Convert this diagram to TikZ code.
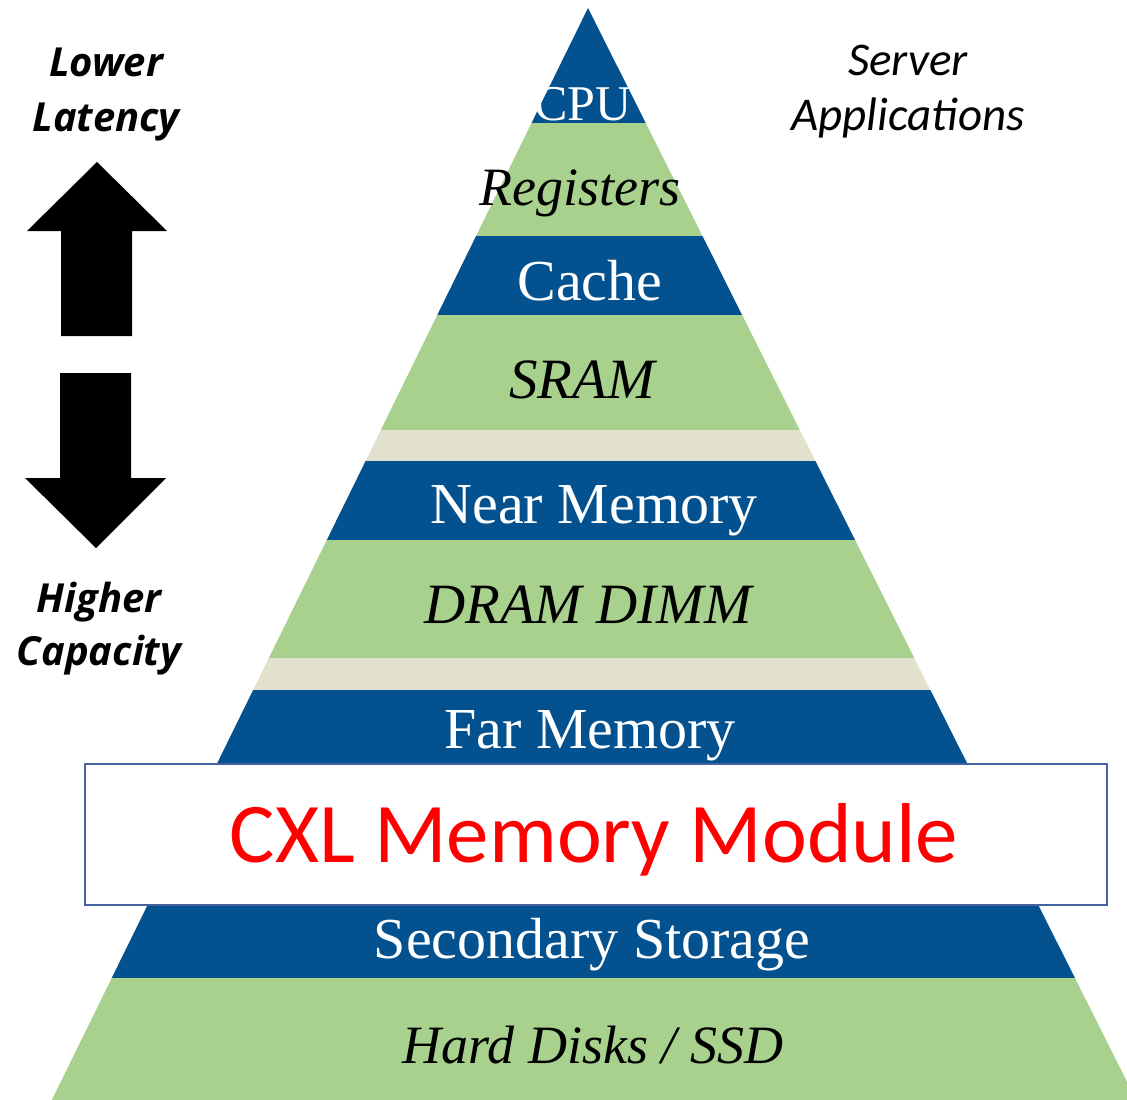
\documentclass[tikz,border=0pt]{standalone}
\usepackage{fontspec}
\setmainfont{Liberation Serif}
\newfontfamily\calibrifont{Carlito}
\newfontfamily\opensansfont{Open Sans}

\definecolor{tierblue}{RGB}{3,82,143}
\definecolor{tiergreen}{RGB}{169,209,142}
\definecolor{tierbeige}{RGB}{226,225,206}
\definecolor{boxedge}{RGB}{68,98,160}

\tikzset{
  declare function={lx(\t)=588-0.491*(\t-8); rx(\t)=588+0.502*(\t-8);},
  tiertext/.style={inner sep=0pt, anchor=base, font=\rmfamily\fontsize{58}{62}\selectfont},
  lighttier/.style={tiertext, text=white},
  darktier/.style={tiertext, text=black, font=\rmfamily\itshape\fontsize{57}{62}\selectfont},
  narrowdark/.style={darktier, font=\rmfamily\itshape\fontsize{54}{60}\selectfont},
  sidelabel/.style={inner sep=0pt, anchor=north, align=center,
    font=\opensansfont\bfseries\itshape\fontsize{40}{55}\selectfont},
  blockarrow/.style={fill=black},
}

% one horizontal slice of the pyramid between heights #1 and #2
\newcommand\tierband[3]{%
  \fill[#3] ({lx(#1)},#1) -- ({rx(#1)},#1) -- ({rx(#2)},#2) -- ({lx(#2)},#2) -- cycle;}

\begin{document}
\begin{tikzpicture}[x=1pt,y=-1pt]
\useasboundingbox (0,0) rectangle (1127,1100);
\clip (0,0) rectangle (1127,1100);

% pyramid slices, top to bottom
\fill[tierblue] (588,8) -- ({rx(123)},123) -- ({lx(123)},123) -- cycle;
\tierband{123}{236}{tiergreen}
\tierband{236}{315}{tierblue}
\tierband{315}{430.5}{tiergreen}
\tierband{430}{461.5}{tierbeige}
\tierband{461}{540.5}{tierblue}
\tierband{540}{658.5}{tiergreen}
\tierband{658}{690.5}{tierbeige}
\tierband{690}{978.5}{tierblue}
\tierband{978}{1100}{tiergreen}

% CXL module box laid across the pyramid
\node[draw=boxedge, line width=2pt, fill=white, inner sep=0pt, minimum width=1022pt,
      minimum height=141pt, anchor=north west] (cxlbox) at (84,763) {};
\node[inner sep=0pt, anchor=base, text=red, font=\calibrifont\fontsize{85}{90}\selectfont]
  (cxl) at (594,862) {CXL Memory Module};

% tier labels
\node[lighttier, font=\rmfamily\fontsize{50}{55}\selectfont] (cpu) at (583,120) {CPU};
\node[narrowdark] (registers) at (580,205) {Registers};
\node[lighttier] (cache) at (590,300) {Cache};
\node[darktier] (sram) at (582,398) {SRAM};
\node[lighttier] (near) at (594,523) {Near Memory};
\node[darktier] (dram) at (588,623) {DRAM DIMM};
\node[lighttier] (far) at (590,748) {Far Memory};
\node[lighttier] (secondary) at (592,958) {Secondary Storage};
\node[narrowdark] (disks) at (593,1063) {Hard Disks / SSD};

% side annotations
\node[sidelabel] (latency) at (106,48) {Lower\\Latency};
\node[sidelabel, font=\opensansfont\bfseries\itshape\fontsize{40}{53}\selectfont]
  (capacity) at (99,582) {Higher\\Capacity};
\node[inner sep=0pt, anchor=north, align=center,
      font=\calibrifont\itshape\fontsize{47}{55}\selectfont]
  (apps) at (908,45) {Server\\Applications};

% block arrows
\fill[blockarrow] (97,162) -- (167,231) -- (132,231) -- (132,336) -- (61,336)
  -- (61,231) -- (27,231) -- cycle;
\fill[blockarrow] (60,373) -- (131,373) -- (131,478) -- (166,478) -- (96,548)
  -- (25,478) -- (60,478) -- cycle;
\end{tikzpicture}
\end{document}
